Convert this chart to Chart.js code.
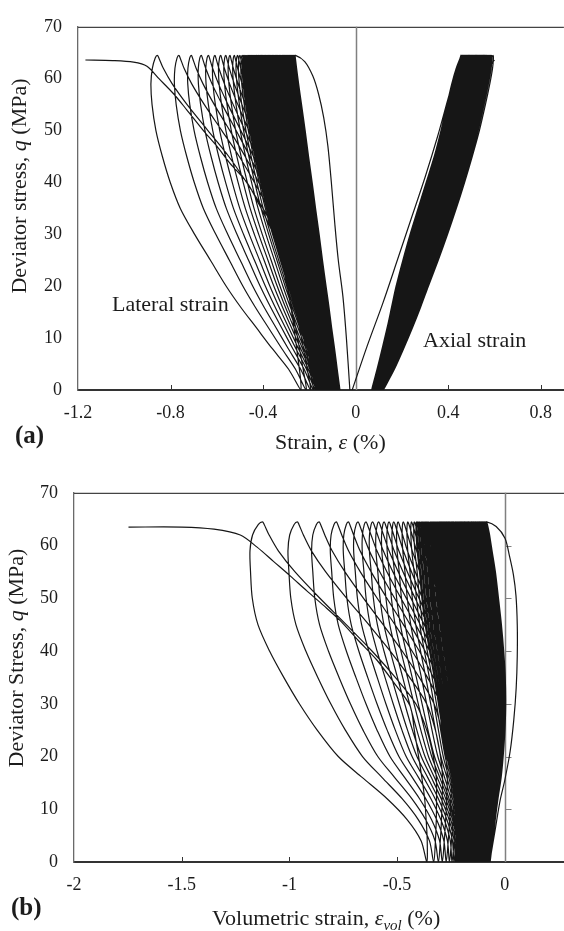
<!DOCTYPE html>
<html>
<head>
<meta charset="utf-8">
<script src="https://cdn.jsdelivr.net/npm/chart.js@4.4.1/dist/chart.umd.min.js"></script>
<style>
  body { margin: 0; background: #fff; width: 564px; height: 931px; position: relative; overflow: hidden; font-family: "Liberation Serif", "Times New Roman", serif; color: #1c1c1c; }
  .panel { position: absolute; left: 0; }
  .lbl { position: absolute; white-space: nowrap; font-size: 22px; line-height: 22px; }
  .rot { transform: translate(-50%, -50%) rotate(-90deg); }
  .tag { font-weight: bold; font-size: 25px; line-height: 25px; }
  sub { font-size: 15px; line-height: 0; }
</style>
</head>
<body>

<canvas id="chartA" class="panel" style="top:0" width="564" height="466"></canvas>
<canvas id="chartB" class="panel" style="top:466px" width="564" height="465"></canvas>

<div class="lbl rot" style="left:19px; top:186px;">Deviator stress, <i>q</i> (MPa)</div>
<div class="lbl" style="left:275px; top:431px;">Strain, <i>ε</i> (%)</div>
<div class="lbl tag" style="left:15px; top:422px;">(a)</div>
<div class="lbl" style="left:112px; top:293px;">Lateral strain</div>
<div class="lbl" style="left:423px; top:329px;">Axial strain</div>

<div class="lbl rot" style="left:16px; top:658px;">Deviator Stress, <i>q</i> (MPa)</div>
<div class="lbl" style="left:212px; top:907px;">Volumetric strain, <i>ε<sub>vol</sub></i> (%)</div>
<div class="lbl tag" style="left:11px; top:894px;">(b)</div>

<script>
// stress levels used by the loop templates (MPa)
const Q_LEVELS = [0, 4, 8, 12, 16, 20, 25, 30, 35, 40, 45, 50, 55, 59, 62, 64, 64.5];

// ---- lateral strain (%), one value per cycle ----
const latPeak = [
  -0.260,
  -0.262, -0.264, -0.266, -0.268, -0.270, -0.272, -0.274, -0.276, -0.278, -0.280,
  -0.282, -0.284, -0.286, -0.288, -0.290, -0.292, -0.294, -0.296, -0.298, -0.300,
  -0.302, -0.304, -0.306, -0.308, -0.310, -0.312, -0.314, -0.316, -0.318,
  -0.321, -0.323, -0.326, -0.328, -0.331, -0.333, -0.336, -0.338, -0.341, -0.343,
  -0.346, -0.348, -0.351, -0.353, -0.356, -0.358, -0.361, -0.363, -0.366, -0.368,
  -0.371, -0.373, -0.376, -0.378, -0.381, -0.383, -0.386, -0.388, -0.391, -0.393,
  -0.396, -0.398, -0.401, -0.403, -0.406, -0.408, -0.411, -0.413, -0.416, -0.418,
  -0.421, -0.424, -0.427, -0.430, -0.433, -0.436, -0.440, -0.444, -0.448, -0.452,
  -0.456, -0.460, -0.464, -0.469, -0.474, -0.479, -0.484, -0.490,
  -0.500, -0.510, -0.524, -0.543, -0.561, -0.583, -0.608, -0.636, -0.667, -0.710,
  -0.764, -0.857
];
const latRes = [
  -0.068,
  -0.069, -0.069, -0.070, -0.071, -0.071, -0.072, -0.073, -0.073, -0.074, -0.075,
  -0.075, -0.076, -0.077, -0.077, -0.078, -0.078, -0.079, -0.080, -0.080, -0.081,
  -0.082, -0.082, -0.083, -0.084, -0.084, -0.085, -0.086, -0.086, -0.087,
  -0.088, -0.089, -0.089, -0.090, -0.091, -0.092, -0.093, -0.093, -0.094, -0.095,
  -0.096, -0.097, -0.098, -0.098, -0.099, -0.100, -0.101, -0.102, -0.102, -0.103,
  -0.104, -0.105, -0.106, -0.106, -0.107, -0.108, -0.109, -0.110, -0.111, -0.111,
  -0.112, -0.113, -0.114, -0.115, -0.115, -0.116, -0.117, -0.118, -0.119, -0.120,
  -0.121, -0.122, -0.122, -0.123, -0.124, -0.125, -0.127, -0.128, -0.129, -0.131,
  -0.132, -0.133, -0.135, -0.136, -0.138, -0.139, -0.141, -0.143,
  -0.145, -0.148, -0.152, -0.156, -0.160, -0.164, -0.169, -0.175, -0.183, -0.195,
  -0.214, -0.237
];
// loop shapes: fraction of the way from residual to peak at each stress level
const latUpEarly   = [0, 0.06, 0.12, 0.185, 0.245, 0.31, 0.39, 0.465, 0.545, 0.62, 0.70, 0.775, 0.855, 0.92, 0.965, 0.993, 1];
const latUpLate    = [0, 0.02, 0.045, 0.07, 0.10, 0.125, 0.16, 0.20, 0.29, 0.40, 0.52, 0.66, 0.80, 0.90, 0.96, 0.99, 1];
const latDownEarly = [0, 0.075, 0.15, 0.225, 0.30, 0.375, 0.465, 0.555, 0.64, 0.72, 0.80, 0.875, 0.94, 0.985, 1.01, 1.01, 1];
const latDownLate  = [0, 0.085, 0.20, 0.31, 0.42, 0.52, 0.63, 0.74, 0.84, 0.91, 0.965, 1.01, 1.037, 1.045, 1.035, 1.015, 1];
const latBulge     = [0, 0, 0, 0, 0, 0, 0, 0, 0, 0, 0, 0, 0, 0, 0, 0, 0];
const latSpan      = [0.19, 0.62];
const latFirstX = [-0.025, -0.040, -0.055, -0.075, -0.090, -0.105, -0.120, -0.138, -0.160, -0.185, -0.220, -0.260];
const latFirstQ = [0, 10, 18, 25, 32, 40, 47, 52.5, 57, 60.5, 63.3, 64.5];
const latFailX = [-0.255, -0.280, -0.315, -0.356, -0.420, -0.470, -0.543, -0.600, -0.658, -0.730, -0.787, -0.850, -0.902, -0.960, -1.050, -1.168];
const latFailQ = [8, 16, 24, 30, 36, 40, 43.7, 47, 50, 54, 57.1, 60, 62.4, 63.2, 63.5, 63.6];

// ---- axial strain (%) ----
const axPeak = [
  0.455,
  0.458, 0.459, 0.461, 0.462, 0.463, 0.464, 0.466, 0.467, 0.468, 0.469,
  0.471, 0.472, 0.473, 0.474, 0.476, 0.477, 0.478, 0.479, 0.481, 0.482,
  0.483, 0.484, 0.486, 0.487, 0.488, 0.489, 0.491, 0.492, 0.493, 0.494,
  0.496, 0.497, 0.498, 0.499, 0.501, 0.502, 0.503, 0.504, 0.506, 0.507,
  0.508, 0.509, 0.511, 0.512, 0.513, 0.514, 0.516, 0.517, 0.518, 0.519,
  0.521, 0.522, 0.523, 0.524, 0.526, 0.527, 0.528, 0.529, 0.531, 0.532,
  0.533, 0.534, 0.536, 0.537, 0.538, 0.539, 0.541, 0.542, 0.543, 0.544,
  0.546, 0.547, 0.548, 0.549, 0.551, 0.552, 0.553, 0.554, 0.556, 0.557,
  0.558, 0.559, 0.561, 0.562, 0.563, 0.564, 0.566,
  0.567, 0.569, 0.571, 0.573, 0.575, 0.577, 0.579, 0.581, 0.583, 0.585,
  0.588, 0.594
];
const axRes = [
  0.070,
  0.071, 0.072, 0.072, 0.072, 0.073, 0.073, 0.074, 0.074, 0.075, 0.075,
  0.076, 0.076, 0.076, 0.077, 0.077, 0.078, 0.078, 0.079, 0.079, 0.080,
  0.080, 0.081, 0.081, 0.081, 0.082, 0.082, 0.083, 0.083, 0.084, 0.084,
  0.085, 0.085, 0.085, 0.086, 0.086, 0.087, 0.087, 0.088, 0.088, 0.089,
  0.089, 0.090, 0.090, 0.090, 0.091, 0.091, 0.092, 0.092, 0.093, 0.093,
  0.094, 0.094, 0.094, 0.095, 0.095, 0.096, 0.096, 0.097, 0.097, 0.098,
  0.098, 0.099, 0.099, 0.099, 0.100, 0.100, 0.101, 0.101, 0.102, 0.102,
  0.103, 0.103, 0.103, 0.104, 0.104, 0.105, 0.105, 0.106, 0.106, 0.107,
  0.107, 0.108, 0.108, 0.108, 0.109, 0.109, 0.110,
  0.110, 0.111, 0.111, 0.112, 0.113, 0.114, 0.114, 0.115, 0.116, 0.117,
  0.118, 0.120
];
const axUpFrac   = [0, 0.058, 0.115, 0.17, 0.22, 0.27, 0.345, 0.426, 0.515, 0.605, 0.695, 0.77, 0.836, 0.89, 0.94, 0.985, 1];
const axDownFrac = [0, 0.10, 0.185, 0.265, 0.34, 0.41, 0.50, 0.585, 0.665, 0.74, 0.81, 0.875, 0.93, 0.97, 0.995, 1.003, 1];
const axBulge    = [0, 0, 0, 0, 0, 0, 0, 0, 0, 0, 0, 0, 0, 0, 0, 0, 0];
const axSpan     = [0.385, 0.48];
const axFirstX = [-0.015, 0.050, 0.118, 0.180, 0.240, 0.300, 0.355, 0.405, 0.455];
const axFirstQ = [0, 8.5, 16.8, 25, 33, 41, 49, 57, 64.5];
const axFailX = [0.175, 0.226, 0.280, 0.341, 0.410, 0.475, 0.522, 0.563, 0.590, 0.600];
const axFailQ = [8, 16, 24, 32, 40, 48, 55, 60, 63, 63.6];

// ---- volumetric strain (%) ----
const volPeak = [
  -0.084,
  -0.086, -0.089, -0.091, -0.094, -0.096, -0.099, -0.102, -0.104, -0.107, -0.110,
  -0.113, -0.116, -0.118, -0.121, -0.124, -0.127, -0.131, -0.134, -0.137, -0.140,
  -0.143, -0.146, -0.150, -0.153, -0.156, -0.160, -0.163, -0.167, -0.170, -0.174,
  -0.177, -0.181, -0.185, -0.188, -0.192, -0.196, -0.200, -0.203, -0.207, -0.211,
  -0.215, -0.219, -0.223, -0.227, -0.231, -0.236, -0.240, -0.244, -0.248, -0.253,
  -0.257, -0.261, -0.266, -0.270, -0.275, -0.279, -0.284, -0.288, -0.293, -0.298,
  -0.302, -0.307, -0.312, -0.317, -0.322, -0.327, -0.331, -0.336, -0.341, -0.346,
  -0.352, -0.357, -0.362, -0.367, -0.372, -0.378, -0.383, -0.388, -0.394, -0.399,
  -0.405, -0.410,
  -0.420, -0.433, -0.450, -0.471, -0.495, -0.515, -0.537, -0.560, -0.585, -0.613,
  -0.644, -0.681, -0.726, -0.782, -0.862, -0.963, -1.125
];
const volRes = [
  -0.068,
  -0.069, -0.070, -0.071, -0.073, -0.074, -0.075, -0.076, -0.078, -0.079, -0.080,
  -0.082, -0.083, -0.084, -0.086, -0.087, -0.088, -0.090, -0.091, -0.092, -0.094,
  -0.095, -0.097, -0.098, -0.100, -0.101, -0.102, -0.104, -0.105, -0.107, -0.108,
  -0.110, -0.112, -0.113, -0.115, -0.116, -0.118, -0.119, -0.121, -0.123, -0.124,
  -0.126, -0.128, -0.129, -0.131, -0.133, -0.134, -0.136, -0.138, -0.140, -0.141,
  -0.143, -0.145, -0.147, -0.148, -0.150, -0.152, -0.154, -0.156, -0.158, -0.159,
  -0.161, -0.163, -0.165, -0.167, -0.169, -0.171, -0.173, -0.175, -0.177, -0.179,
  -0.181, -0.183, -0.185, -0.187, -0.189, -0.191, -0.193, -0.195, -0.197, -0.199,
  -0.201, -0.203, -0.206, -0.208, -0.210, -0.212, -0.214, -0.216, -0.219,
  -0.224, -0.229, -0.236, -0.245, -0.257, -0.272, -0.290, -0.308, -0.330, -0.362
];
const volUpFrac   = [0, 0.005, 0.015, 0.03, 0.05, 0.08, 0.13, 0.20, 0.32, 0.45, 0.59, 0.73, 0.86, 0.94, 0.98, 0.995, 1];
const volDownFrac = [0, 0.05, 0.15, 0.29, 0.46, 0.62, 0.76, 0.875, 0.97, 1.05, 1.11, 1.13, 1.125, 1.11, 1.08, 1.03, 1];
const volBulge    = [0, 0.012, 0.024, 0.037, 0.052, 0.062, 0.071, 0.076, 0.076, 0.071, 0.063, 0.052, 0.04, 0.026, 0.015, 0.004, 0];
const volSpan     = [0.02, 0.76];
const volFirstX = [-0.070, -0.045, -0.022, 0.000, 0.025, 0.042, 0.053, 0.058, 0.058, 0.052, 0.040, 0.022, 0.001, -0.040, -0.084];
const volFirstQ = [0, 6, 11.6, 15.5, 21, 27, 33, 39, 45, 50.5, 54.5, 58, 61.4, 63.6, 64.5];
const volFailX = [-0.360, -0.365, -0.372, -0.385, -0.400, -0.420, -0.440, -0.515, -0.594, -0.680, -0.765, -0.840, -0.919, -0.995, -1.074, -1.150, -1.228, -1.350, -1.500, -1.747];
const volFailQ = [4, 8, 12, 16, 20, 25, 29.6, 34, 38.3, 42, 45.8, 48.6, 51.4, 54.2, 57, 59.7, 62, 63.1, 63.5, 63.5];

// ---- axis ticks ----
const xTicksA = [-1.2, -0.8, -0.4, 0, 0.4, 0.8];
const xTicksB = [-2, -1.5, -1, -0.5, 0];
const yTicks = [0, 10, 20, 30, 40, 50, 60, 70];

const FONT = '"Liberation Serif", "Times New Roman", serif';
const LINE = '#161616';

// blend the early (small loop) and late (large loop) shape by loop size
function shapeAt(early, late, k, span, spanRange) {
  let w = (Math.abs(span) - spanRange[0]) / (spanRange[1] - spanRange[0]);
  w = Math.max(0, Math.min(1, w));
  return early[k] + (late[k] - early[k]) * w;
}

// one continuous test record: first loading, then unload / reload per cycle, then failure
function buildPath(s) {
  const pts = s.firstX.map((x, i) => ({x: x, y: s.firstQ[i]}));
  const n = Q_LEVELS.length;
  for (let i = 0; i < s.peaks.length; i++) {
    const p = s.peaks[i], r = s.res[i];
    for (let k = n - 2; k >= 0; k--) {
      const f = shapeAt(s.downEarly, s.downLate, k, p - r, s.span);
      pts.push({x: r + (p - r) * f + s.bulge[k], y: Q_LEVELS[k]});
    }
    if (i + 1 < s.peaks.length) {
      const p2 = s.peaks[i + 1];
      for (let k = 1; k < n; k++) {
        const f = shapeAt(s.upEarly, s.upLate, k, p2 - r, s.span);
        pts.push({x: r + (p2 - r) * f + s.bulge[k], y: Q_LEVELS[k]});
      }
    }
  }
  s.failX.forEach((x, i) => pts.push({x: x, y: s.failQ[i]}));
  return pts;
}

const frameDecor = {
  id: 'frameDecor',
  beforeDatasetsDraw(chart, args, opts) {
    const ctx = chart.ctx;
    const a = chart.chartArea;
    const xs = chart.scales.x, ys = chart.scales.y;
    ctx.save();
    // top frame line
    ctx.strokeStyle = '#444';
    ctx.lineWidth = 1.2;
    ctx.beginPath();
    ctx.moveTo(a.left, a.top + 0.5);
    ctx.lineTo(a.right, a.top + 0.5);
    ctx.stroke();
    // vertical axis crossing at zero
    const x0 = Math.round(xs.getPixelForValue(0)) + 0.5;
    ctx.strokeStyle = '#808080';
    ctx.lineWidth = 1.5;
    ctx.beginPath();
    ctx.moveTo(x0, a.top);
    ctx.lineTo(x0, a.bottom);
    ctx.stroke();
    if (opts.zeroTicks) {
      ctx.lineWidth = 1;
      yTicks.slice(1, -1).forEach(v => {
        const py = Math.round(ys.getPixelForValue(v)) + 0.5;
        ctx.beginPath();
        ctx.moveTo(x0, py);
        ctx.lineTo(x0 + 6, py);
        ctx.stroke();
      });
    }
    // inward tick marks on the bottom axis
    ctx.strokeStyle = '#333';
    ctx.lineWidth = 1;
    opts.xTicks.slice(1).forEach(v => {
      if (v === 0) return;
      const px = Math.round(xs.getPixelForValue(v)) + 0.5;
      ctx.beginPath();
      ctx.moveTo(px, a.bottom);
      ctx.lineTo(px, a.bottom - 5);
      ctx.stroke();
    });
    ctx.restore();
  }
};

function makeOptions(xMin, xMax, xTicks, padTop, xHeight, yWidth, zeroTicks) {
  return {
    responsive: false,
    animation: false,
    events: [],
    layout: {padding: {top: padTop, left: 0, right: 0, bottom: 0}},
    plugins: {
      legend: {display: false},
      tooltip: {enabled: false},
      frameDecor: {xTicks: xTicks, zeroTicks: zeroTicks}
    },
    elements: {point: {radius: 0}, line: {borderWidth: 1.2, tension: 0.3}},
    scales: {
      x: {
        type: 'linear',
        min: xMin,
        max: xMax,
        afterBuildTicks: s => { s.ticks = xTicks.map(v => ({value: v})); },
        afterFit: s => { s.height = xHeight; },
        grid: {display: false, drawTicks: false},
        border: {color: '#333', width: 2},
        ticks: {padding: 12, color: '#1c1c1c', font: {family: FONT, size: 18}, maxRotation: 0, callback: v => String(v)}
      },
      y: {
        type: 'linear',
        min: 0,
        max: 70,
        afterBuildTicks: s => { s.ticks = yTicks.map(v => ({value: v})); },
        afterFit: s => { s.width = yWidth; },
        grid: {display: false, drawTicks: false},
        border: {color: '#6a6a6a', width: 1.3},
        ticks: {padding: 16, color: '#1c1c1c', font: {family: FONT, size: 18}, callback: v => String(v)}
      }
    }
  };
}

const lateral = {
  firstX: latFirstX, firstQ: latFirstQ, peaks: latPeak, res: latRes,
  upEarly: latUpEarly, upLate: latUpLate, downEarly: latDownEarly, downLate: latDownLate,
  bulge: latBulge, span: latSpan, failX: latFailX, failQ: latFailQ
};
const axial = {
  firstX: axFirstX, firstQ: axFirstQ, peaks: axPeak, res: axRes,
  upEarly: axUpFrac, upLate: axUpFrac, downEarly: axDownFrac, downLate: axDownFrac,
  bulge: axBulge, span: axSpan, failX: axFailX, failQ: axFailQ
};
const volumetric = {
  firstX: volFirstX, firstQ: volFirstQ, peaks: volPeak, res: volRes,
  upEarly: volUpFrac, upLate: volUpFrac, downEarly: volDownFrac, downLate: volDownFrac,
  bulge: volBulge, span: volSpan, failX: volFailX, failQ: volFailQ
};

new Chart(document.getElementById('chartA'), {
  type: 'scatter',
  data: {
    datasets: [
      {label: 'Lateral strain', data: buildPath(lateral), showLine: true, borderColor: LINE},
      {label: 'Axial strain', data: buildPath(axial), showLine: true, borderColor: LINE}
    ]
  },
  options: makeOptions(-1.2, 0.9, xTicksA, 16, 76, 78, false),
  plugins: [frameDecor]
});

new Chart(document.getElementById('chartB'), {
  type: 'scatter',
  data: {
    datasets: [
      {label: 'Volumetric strain', data: buildPath(volumetric), showLine: true, borderColor: LINE}
    ]
  },
  options: makeOptions(-2, 0.275, xTicksB, 21, 69, 74, true),
  plugins: [frameDecor]
});
</script>
</body>
</html>
